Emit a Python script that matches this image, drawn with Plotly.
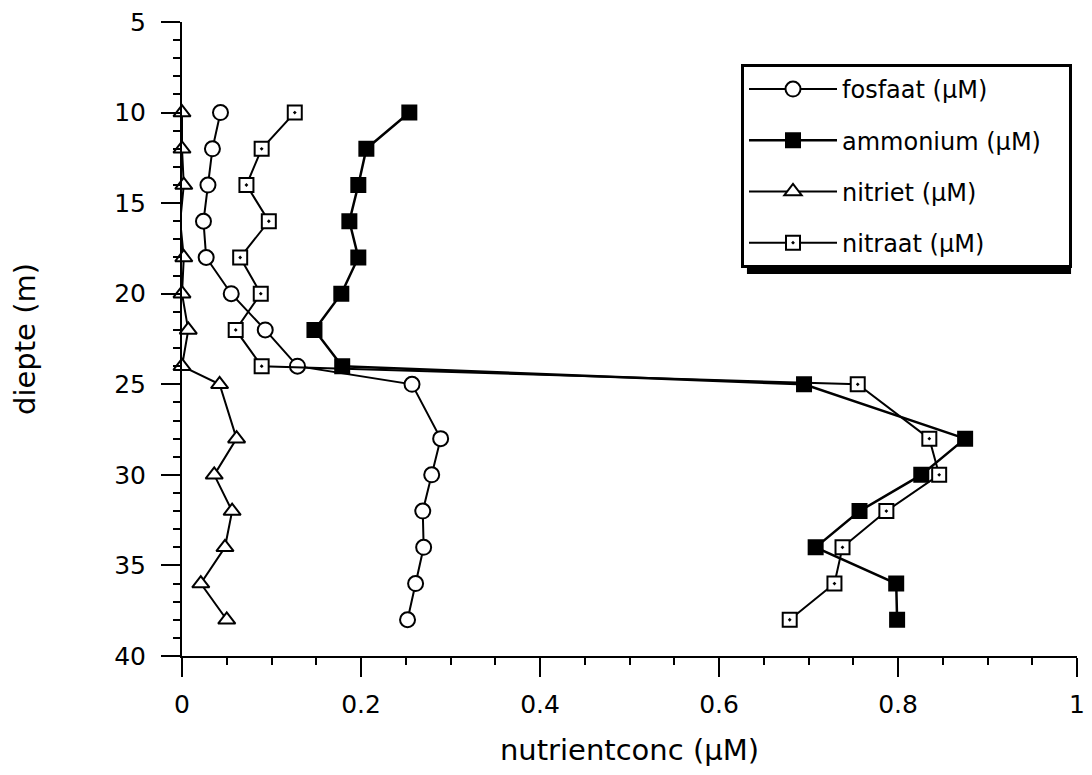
import plotly.graph_objects as go

depth = [10, 12, 14, 16, 18, 20, 22, 24, 25, 28, 30, 32, 34, 36, 38]
fosfaat = [0.043, 0.034, 0.029, 0.024, 0.027, 0.055, 0.093, 0.129, 0.257, 0.289, 0.279, 0.269, 0.270, 0.261, 0.252]
ammonium = [0.254, 0.206, 0.197, 0.187, 0.197, 0.178, 0.148, 0.179, 0.695, 0.875, 0.826, 0.757, 0.708, 0.798, 0.799]
nitriet = [0.0, 0.0, 0.002, -0.002, 0.002, 0.0, 0.007, 0.0, 0.042, 0.061, 0.036, 0.056, 0.048, 0.021, 0.050]
nitraat = [0.126, 0.089, 0.072, 0.097, 0.065, 0.088, 0.060, 0.089, 0.755, 0.835, 0.846, 0.787, 0.738, 0.729, 0.679]

names = ["fosfaat (\u03bcM)", "ammonium (\u03bcM)", "nitriet (\u03bcM)", "nitraat (\u03bcM)"]
series = [fosfaat, ammonium, nitriet, nitraat]
symbols = ["circle", "square", "triangle-up", "square-dot"]
fills = ["white", "black", "white", "white"]
widths = [2, 2.5, 2, 2]
msizes = [15, 14, 15, 14]

FONT = "DejaVu Sans"
W, H = 1092, 775
ML, MR, MT, MB = 182, 7, 22, 119

fig = go.Figure()
for i, (nm, vals, sym, fc, lw, ms) in enumerate(zip(names, series, symbols, fills, widths, msizes)):
    fig.add_trace(go.Scatter(
        x=vals, y=depth, name=nm + "\u00a0\u00a0\u00a0", mode="lines+markers",
        line=dict(color="black", width=lw),
        marker=dict(symbol=sym, size=ms, color=fc, line=dict(color="black", width=2)),
        cliponaxis=False, legendgroup=f"g{i}",
    ))

# legend placement (pixels) and drop shadow
leg_left, leg_top = 746, 64
pw, ph = W - ML - MR, H - MT - MB
lx = (leg_left - ML) / pw
ly = (H - MB - leg_top) / ph
shadow_w, shadow_h = 327, 204
off = 6
fig.add_shape(type="rect", xref="paper", yref="paper",
              x0=(leg_left + off - ML) / pw, x1=(leg_left + off + shadow_w - ML) / pw,
              y0=(H - MB - (leg_top + off + shadow_h)) / ph, y1=(H - MB - (leg_top + off)) / ph,
              fillcolor="black", line=dict(width=0), layer="above")

fig.update_layout(
    width=W, height=H,
    margin=dict(l=ML, r=MR, t=MT, b=MB),
    paper_bgcolor="white", plot_bgcolor="white",
    font=dict(family=FONT, size=24, color="black"),
    showlegend=True,
    legend=dict(x=lx, y=ly, xanchor="left", yanchor="top",
                bgcolor="white", bordercolor="black", borderwidth=3,
                font=dict(family=FONT, size=24, color="black"),
                tracegroupgap=17, itemwidth=88),
)
fig.update_xaxes(
    range=[0, 1], tickvals=[0, 0.2, 0.4, 0.6, 0.8, 1], ticktext=["0", "0.2", "0.4", "0.6", "0.8", "1"],
    ticks="outside", ticklen=19, tickwidth=2, tickcolor="black", ticklabelstandoff=6,
    ticklabeloverflow="allow",
    showline=True, linecolor="black", linewidth=2, showgrid=False, zeroline=False,
    minor=dict(dtick=0.05, ticks="outside", ticklen=7, tickwidth=2, tickcolor="black", showgrid=False),
    title=dict(text="nutrientconc (\u03bcM)", standoff=22, font=dict(size=29)),
    tickfont=dict(size=25),
)
fig.update_yaxes(
    range=[40, 5], tickvals=[5, 10, 15, 20, 25, 30, 35, 40],
    ticks="outside", ticklen=19, tickwidth=2, tickcolor="black", ticklabelstandoff=10,
    showline=True, linecolor="black", linewidth=2, showgrid=False, zeroline=False,
    minor=dict(dtick=1, ticks="outside", ticklen=7, tickwidth=2, tickcolor="black", showgrid=False),
    title=dict(text="diepte (m)", standoff=70, font=dict(size=29)),
    tickfont=dict(size=25),
)

fig.write_html("out.html", config={"displayModeBar": False},
               post_script="document.body.style.margin='0';")
